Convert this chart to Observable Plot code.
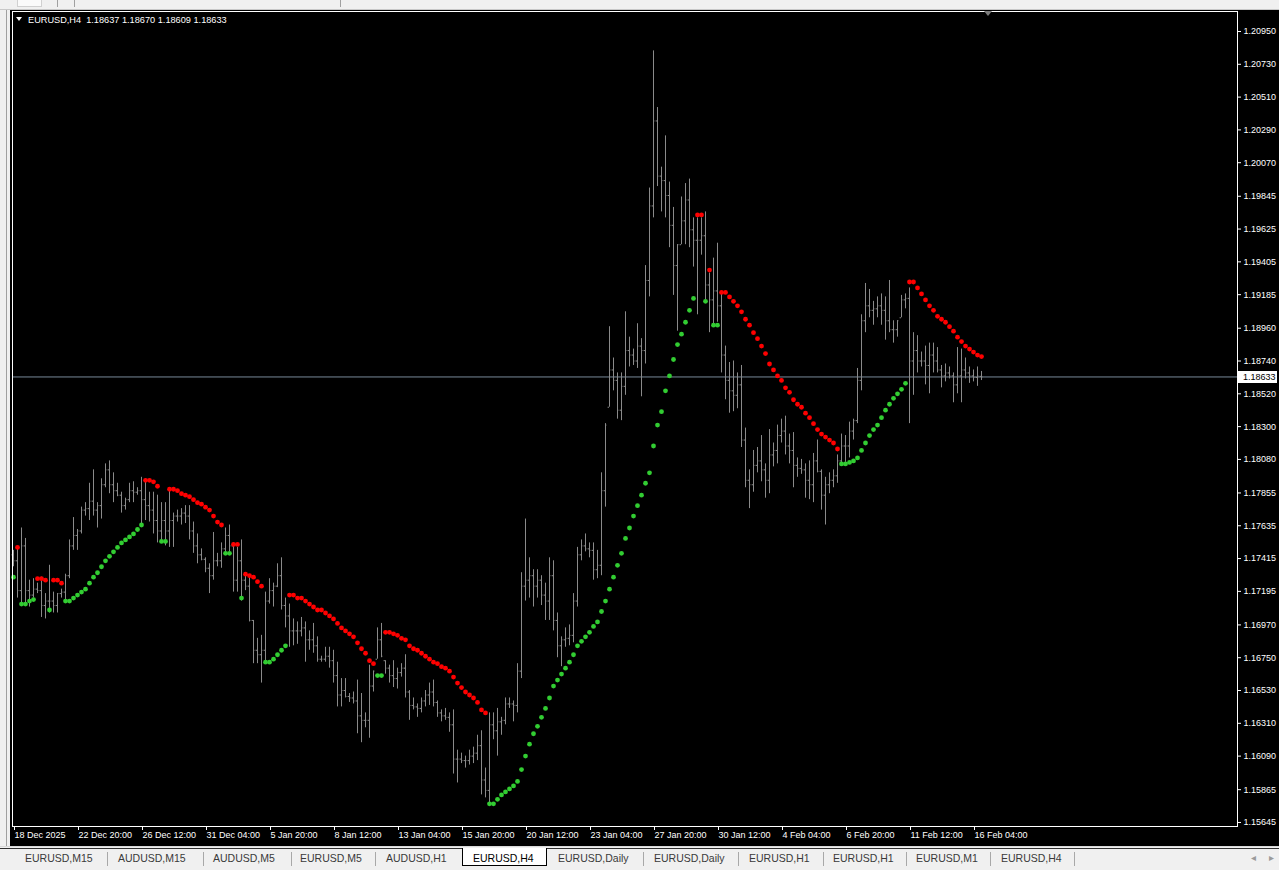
<!DOCTYPE html>
<html>
<head>
<meta charset="utf-8">
<script src="https://cdn.jsdelivr.net/npm/d3@7"></script>
<script src="https://cdn.jsdelivr.net/npm/@observablehq/plot@0.6"></script>
<style>
  html, body { margin:0; padding:0; }
  body { width:1279px; height:870px; overflow:hidden; position:relative; background:#f0f0f0; font-family:"Liberation Sans", Arial, sans-serif; }
  #chart { position:absolute; left:10px; top:10px; width:1269px; height:836px; background:#000; }
  #chart svg { display:block; }
  .abs { position:absolute; }
  #title { left:28px; top:15px; color:#fff; font-size:9.2px; line-height:10px; white-space:pre; }
  #tri { left:16px; top:17px; width:0; height:0; border-left:3.5px solid transparent; border-right:3.5px solid transparent; border-top:4px solid #fff; }
  #shift { left:984px; top:11px; width:0; height:0; border-left:4px solid transparent; border-right:4px solid transparent; border-top:5px solid #7a7a7a; }
  #tabs { left:0; top:846px; width:1279px; height:24px; background:#f0f0f0; border-top:1px solid #d8d8d8; }
  #tabs .line { left:0; top:1px; width:1279px; height:1px; background:#303030; }
  .tab { top:5px; font-size:10.5px; color:#3a3a3a; white-space:nowrap; }
  .sep { top:5px; width:1px; height:14px; background:#a8a8a8; }
  .active { top:1px; height:18px; background:#fff; border:1px solid #000; border-top:none; box-sizing:border-box; }
  .arrow { top:5px; font-size:10px; color:#9a9a9a; }
</style>
</head>
<body>
<div class="abs" style="left:0;top:0;width:1279px;height:9px;background:#f0f0f0;border-bottom:1px solid #c8c8c8"></div>
<div class="abs" style="left:17px;top:0;width:23px;height:6px;background:#fafafa;border:1px solid #d0d0d0;border-top:none"></div>
<div class="abs" style="left:57px;top:0;width:1px;height:7px;background:#a0a0a0"></div>
<div class="abs" style="left:74px;top:0;width:1px;height:7px;background:#a0a0a0"></div>
<div class="abs" style="left:340px;top:0;width:1px;height:7px;background:#a0a0a0"></div>
<div class="abs" style="left:6px;top:10px;width:1px;height:836px;background:#a0a0a0"></div>
<div id="chart"></div>
<div id="tri" class="abs"></div>
<div id="title" class="abs"></div>
<div id="shift" class="abs"></div>
<div id="tabs" class="abs"><div class="line abs"></div></div>
<script>
// ---- Chart header ----
const symbolName = "EURUSD,H4";

// ---- OHLC bars (H4), bar index 0 = 18 Dec 2025 00:00 ----
const opens = [
1.1744,1.1740,1.1720,1.1750,1.1720,1.1717,1.1721,1.1720,1.1710,1.1713,
1.1713,1.1710,1.1718,1.1719,1.1730,1.1750,1.1757,1.1760,1.1774,1.1775,
1.1780,1.1774,1.1777,1.1791,1.1801,1.1791,1.1787,1.1784,1.1777,1.1781,
1.1787,1.1786,1.1787,1.1781,1.1777,1.1774,1.1767,1.1760,1.1767,1.1760,
1.1767,1.1770,1.1770,1.1772,1.1770,1.1760,1.1750,1.1744,1.1741,1.1735,
1.1730,1.1740,1.1740,1.1748,1.1757,1.1750,1.1727,1.1740,1.1727,1.1723,
1.1700,1.1680,1.1677,1.1680,1.1713,1.1720,1.1723,1.1730,1.1710,1.1703,
1.1693,1.1693,1.1693,1.1695,1.1687,1.1687,1.1683,1.1674,1.1674,1.1676,
1.1673,1.1663,1.1650,1.1653,1.1649,1.1648,1.1646,1.1636,1.1633,1.1633,
1.1656,1.1674,1.1687,1.1673,1.1668,1.1663,1.1661,1.1665,1.1668,1.1652,
1.1643,1.1642,1.1641,1.1646,1.1650,1.1652,1.1645,1.1638,1.1636,1.1635,
1.1630,1.1607,1.1607,1.1606,1.1606,1.1609,1.1611,1.1616,1.1593,1.1586,
1.1630,1.1626,1.1632,1.1633,1.1644,1.1644,1.1643,1.1666,1.1723,1.1727,
1.1730,1.1723,1.1727,1.1717,1.1713,1.1730,1.1700,1.1683,1.1687,1.1688,
1.1690,1.1713,1.1744,1.1750,1.1748,1.1747,1.1734,1.1737,1.1787,1.1843,
1.1868,1.1861,1.1841,1.1857,1.1881,1.1878,1.1874,1.1884,1.1881,1.1928,
1.1978,1.2035,1.1998,1.1995,1.1985,1.1965,1.1938,1.1952,1.1968,1.1982,
1.1962,1.1955,1.1955,1.1958,1.1925,1.1915,1.1921,1.1911,1.1878,1.1861,
1.1854,1.1851,1.1858,1.1821,1.1794,1.1791,1.1804,1.1807,1.1801,1.1794,
1.1811,1.1814,1.1824,1.1827,1.1817,1.1814,1.1804,1.1802,1.1801,1.1794,
1.1791,1.1807,1.1800,1.1784,1.1791,1.1794,1.1797,1.1807,1.1817,1.1817,
1.1827,1.1834,1.1861,1.1901,1.1911,1.1908,1.1909,1.1911,1.1908,1.1901,
1.1895,1.1895,1.1903,1.1915,1.1916,1.1874,1.1881,1.1874,1.1874,1.1871,
1.1878,1.1874,1.1868,1.1864,1.1866,1.1864,1.1858,1.1864,1.1868,1.1866,
1.1864,1.1863,1.18637];

const highs = [
1.1747,1.1749,1.1762,1.1755,1.1727,1.1728,1.1725,1.1729,1.1718,1.1737,
1.1719,1.1718,1.1721,1.1731,1.1754,1.1769,1.1761,1.1776,1.1779,1.1792,
1.1801,1.1779,1.1795,1.1805,1.1807,1.1799,1.1792,1.1786,1.1782,1.1792,
1.1793,1.1789,1.1796,1.1795,1.1786,1.1786,1.1784,1.1779,1.1779,1.1788,
1.1772,1.1774,1.1775,1.1777,1.1777,1.1766,1.1758,1.1748,1.1742,1.1738,
1.1759,1.1745,1.1752,1.1762,1.1764,1.1752,1.1749,1.1754,1.1731,1.1729,
1.1700,1.1688,1.1690,1.1719,1.1728,1.1725,1.1738,1.1742,1.1715,1.1711,
1.1701,1.1699,1.1702,1.1699,1.1693,1.1698,1.1689,1.1676,1.1682,1.1682,
1.1680,1.1672,1.1661,1.1661,1.1651,1.1652,1.1660,1.1651,1.1638,1.1670,
1.1666,1.1695,1.1698,1.1673,1.1670,1.1673,1.1668,1.1671,1.1677,1.1653,
1.1648,1.1644,1.1648,1.1653,1.1658,1.1660,1.1646,1.1640,1.1641,1.1638,
1.1640,1.1613,1.1611,1.1609,1.1613,1.1615,1.1623,1.1626,1.1601,1.1638,
1.1638,1.1641,1.1635,1.1648,1.1648,1.1646,1.1671,1.1732,1.1768,1.1742,
1.1734,1.1734,1.1730,1.1725,1.1742,1.1740,1.1705,1.1689,1.1695,1.1697,
1.1718,1.1749,1.1754,1.1758,1.1752,1.1752,1.1747,1.1799,1.1832,1.1897,
1.1876,1.1866,1.1866,1.1907,1.1890,1.1882,1.1899,1.1889,1.1938,1.1990,
1.2082,1.2044,1.2004,1.2025,1.1994,1.1977,1.1952,1.1984,1.1993,1.1996,
1.1970,1.1970,1.1970,1.1974,1.1933,1.1943,1.1953,1.1919,1.1884,1.1873,
1.1874,1.1866,1.1871,1.1829,1.1801,1.1814,1.1816,1.1824,1.1805,1.1828,
1.1819,1.1831,1.1835,1.1837,1.1825,1.1826,1.1809,1.1808,1.1805,1.1807,
1.1812,1.1821,1.1801,1.1796,1.1799,1.1801,1.1811,1.1825,1.1824,1.1833,
1.1835,1.1869,1.1905,1.1926,1.1922,1.1914,1.1917,1.1919,1.1917,1.1928,
1.1901,1.1901,1.1918,1.1919,1.1923,1.1893,1.1891,1.1880,1.1884,1.1886,
1.1886,1.1883,1.1871,1.1872,1.1870,1.1866,1.1883,1.1882,1.1876,1.1870,
1.1868,1.1870,1.18670];

const lows = [
1.1736,1.1715,1.1710,1.1712,1.1709,1.1715,1.1718,1.1702,1.1701,1.1705,
1.1705,1.1705,1.1715,1.1712,1.1728,1.1747,1.1747,1.1758,1.1770,1.1767,
1.1770,1.1762,1.1768,1.1789,1.1785,1.1779,1.1783,1.1772,1.1774,1.1779,
1.1779,1.1784,1.1765,1.1767,1.1766,1.1758,1.1752,1.1752,1.1750,1.1749,
1.1749,1.1766,1.1764,1.1765,1.1754,1.1745,1.1738,1.1740,1.1732,1.1718,
1.1727,1.1736,1.1735,1.1745,1.1746,1.1719,1.1719,1.1713,1.1720,1.1699,
1.1671,1.1671,1.1658,1.1673,1.1711,1.1709,1.1722,1.1707,1.1695,1.1682,
1.1683,1.1684,1.1689,1.1672,1.1680,1.1678,1.1672,1.1672,1.1672,1.1668,
1.1658,1.1642,1.1642,1.1648,1.1645,1.1644,1.1624,1.1618,1.1628,1.1621,
1.1652,1.1674,1.1675,1.1664,1.1658,1.1655,1.1654,1.1662,1.1648,1.1633,
1.1640,1.1635,1.1638,1.1642,1.1643,1.1642,1.1635,1.1632,1.1633,1.1625,
1.1597,1.1591,1.1604,1.1601,1.1603,1.1604,1.1606,1.1583,1.1581,1.1577,
1.1620,1.1609,1.1623,1.1630,1.1641,1.1632,1.1638,1.1661,1.1713,1.1715,
1.1709,1.1715,1.1710,1.1700,1.1700,1.1693,1.1675,1.1669,1.1682,1.1683,
1.1685,1.1709,1.1740,1.1746,1.1742,1.1727,1.1728,1.1730,1.1776,1.1843,
1.1854,1.1835,1.1834,1.1851,1.1870,1.1871,1.1869,1.1850,1.1872,1.1917,
1.1970,1.1991,1.1974,1.1970,1.1950,1.1918,1.1894,1.1952,1.1952,1.1950,
1.1937,1.1905,1.1945,1.1915,1.1893,1.1899,1.1900,1.1866,1.1848,1.1839,
1.1840,1.1842,1.1816,1.1789,1.1775,1.1786,1.1799,1.1793,1.1782,1.1785,
1.1803,1.1805,1.1819,1.1811,1.1805,1.1789,1.1796,1.1798,1.1782,1.1781,
1.1779,1.1799,1.1774,1.1764,1.1785,1.1789,1.1792,1.1805,1.1806,1.1809,
1.1821,1.1832,1.1854,1.1893,1.1903,1.1898,1.1903,1.1898,1.1888,1.1893,
1.1886,1.1890,1.1903,1.1909,1.1832,1.1851,1.1866,1.1870,1.1858,1.1852,
1.1866,1.1866,1.1856,1.1860,1.1862,1.1846,1.1852,1.1846,1.1862,1.1859,
1.1860,1.1857,1.18609];

const closes = [
1.1740,1.1720,1.1750,1.1720,1.1717,1.1721,1.1720,1.1710,1.1713,1.1713,
1.1710,1.1718,1.1719,1.1730,1.1750,1.1757,1.1760,1.1774,1.1775,1.1780,
1.1774,1.1777,1.1791,1.1801,1.1791,1.1787,1.1784,1.1777,1.1781,1.1787,
1.1786,1.1787,1.1781,1.1777,1.1774,1.1767,1.1760,1.1767,1.1760,1.1767,
1.1770,1.1770,1.1772,1.1770,1.1760,1.1750,1.1744,1.1741,1.1735,1.1730,
1.1740,1.1740,1.1748,1.1757,1.1750,1.1727,1.1740,1.1727,1.1723,1.1700,
1.1680,1.1677,1.1680,1.1713,1.1720,1.1723,1.1730,1.1710,1.1703,1.1693,
1.1693,1.1693,1.1695,1.1687,1.1687,1.1683,1.1674,1.1674,1.1676,1.1673,
1.1663,1.1650,1.1653,1.1649,1.1648,1.1646,1.1636,1.1633,1.1633,1.1656,
1.1666,1.1687,1.1676,1.1668,1.1663,1.1661,1.1665,1.1668,1.1652,1.1643,
1.1642,1.1641,1.1646,1.1650,1.1652,1.1645,1.1638,1.1636,1.1635,1.1630,
1.1607,1.1607,1.1606,1.1606,1.1609,1.1611,1.1616,1.1593,1.1586,1.1630,
1.1626,1.1632,1.1633,1.1644,1.1644,1.1643,1.1666,1.1723,1.1727,1.1730,
1.1723,1.1727,1.1717,1.1713,1.1730,1.1700,1.1683,1.1687,1.1688,1.1690,
1.1713,1.1744,1.1750,1.1748,1.1747,1.1734,1.1737,1.1787,1.1831,1.1868,
1.1861,1.1841,1.1857,1.1881,1.1878,1.1874,1.1884,1.1881,1.1928,1.1978,
1.2035,1.1998,1.1995,1.1985,1.1965,1.1938,1.1952,1.1968,1.1982,1.1962,
1.1955,1.1955,1.1958,1.1925,1.1915,1.1921,1.1911,1.1878,1.1861,1.1854,
1.1851,1.1858,1.1821,1.1794,1.1791,1.1804,1.1807,1.1801,1.1794,1.1811,
1.1814,1.1824,1.1827,1.1817,1.1814,1.1804,1.1802,1.1801,1.1794,1.1791,
1.1807,1.1800,1.1784,1.1791,1.1794,1.1797,1.1807,1.1817,1.1817,1.1827,
1.1834,1.1861,1.1901,1.1911,1.1908,1.1909,1.1911,1.1908,1.1901,1.1895,
1.1895,1.1901,1.1915,1.1916,1.1874,1.1881,1.1874,1.1874,1.1871,1.1878,
1.1874,1.1868,1.1864,1.1866,1.1864,1.1858,1.1864,1.1868,1.1866,1.1864,
1.1863,1.1864,1.18633];

// ---- Trend indicator dots (one per bar): level and side (g = up/green, r = down/red) ----
const dotLevel = [
1.1729,1.1749,1.1711,1.1711,1.1713,1.1714,1.1728,1.1728,1.1727,1.1707,
1.1727,1.1727,1.1725,1.1713,1.1713,1.1715,1.1717,1.1719,1.1721,1.1725,
1.1729,1.1732,1.1736,1.1740,1.1743,1.1746,1.1749,1.1752,1.1754,1.1756,
1.1758,1.1761,1.1764,1.1794,1.1794,1.1793,1.1790,1.1753,1.1753,1.1788,
1.1788,1.1787,1.1785,1.1784,1.1783,1.1781,1.1779,1.1778,1.1776,1.1774,
1.1770,1.1766,1.1764,1.1745,1.1745,1.1751,1.1751,1.1715,1.1731,1.1730,
1.1729,1.1726,1.1723,1.1672,1.1672,1.1674,1.1677,1.1680,1.1683,1.1717,
1.1717,1.1715,1.1715,1.1713,1.1711,1.1709,1.1707,1.1707,1.1705,1.1703,
1.1701,1.1698,1.1695,1.1693,1.1691,1.1689,1.1685,1.1681,1.1678,1.1673,
1.1671,1.1663,1.1663,1.1692,1.1692,1.1691,1.1690,1.1688,1.1687,1.1683,
1.1681,1.1680,1.1678,1.1676,1.1674,1.1672,1.1671,1.1669,1.1668,1.1666,
1.1662,1.1658,1.1655,1.1652,1.1650,1.1648,1.1645,1.1640,1.1638,1.1577,
1.1577,1.1580,1.1583,1.1585,1.1587,1.1589,1.1592,1.1600,1.1609,1.1617,
1.1624,1.1629,1.1635,1.1641,1.1648,1.1656,1.1660,1.1664,1.1668,1.1672,
1.1677,1.1683,1.1686,1.1689,1.1692,1.1696,1.1699,1.1706,1.1713,1.1721,
1.1729,1.1737,1.1745,1.1755,1.1762,1.1770,1.1777,1.1784,1.1792,1.1799,
1.1817,1.1831,1.1840,1.1854,1.1864,1.1875,1.1885,1.1892,1.1900,1.1908,
1.1916,1.1972,1.1972,1.1914,1.1935,1.1898,1.1898,1.1920,1.1920,1.1917,
1.1914,1.1911,1.1907,1.1902,1.1898,1.1893,1.1889,1.1884,1.1879,1.1872,
1.1868,1.1864,1.1861,1.1856,1.1853,1.1848,1.1845,1.1843,1.1839,1.1836,
1.1832,1.1828,1.1825,1.1823,1.1821,1.1819,1.1815,1.1805,1.1805,1.1806,
1.1807,1.1809,1.1814,1.1819,1.1824,1.1828,1.1831,1.1836,1.1841,1.1845,
1.1849,1.1852,1.1855,1.1859,1.1927,1.1927,1.1923,1.1919,1.1915,1.1911,
1.1908,1.1904,1.1902,1.1900,1.1897,1.1894,1.1890,1.1887,1.1884,1.1882,
1.1880,1.1878,1.1877];

const dotSide = (
"grggggrrrg" + "rrrggggggg" + "gggggggggg" + "gggrrrrggr" + "rrrrrrrrrr" +
"rrrggrrgrr" + "rrrggggggr" + "rrrrrrrrrr" + "rrrrrrrrrr" + "rggrrrrrrr" +
"rrrrrrrrrr" + "rrrrrrrrrg" + "gggggggggg" + "gggggggggg" + "gggggggggg" +
"gggggggggg" + "gggggggggg" + "grrgrggrrr" + "rrrrrrrrrr" + "rrrrrrrrrr" +
"rrrrrrrggg" + "gggggggggg" + "ggggrrrrrr" + "rrrrrrrrrr" + "rrr").split("");

// ---- Axis ticks ----
const priceTicks = [1.20950,1.20730,1.20510,1.20290,1.20070,1.19845,1.19625,1.19405,1.19185,
  1.18960,1.18740,1.18520,1.18300,1.18080,1.17855,1.17635,1.17415,1.17195,1.16970,1.16750,
  1.16530,1.16310,1.16090,1.15865,1.15645];
const dateTickBars = [0,16,32,48,64,80,96,112,128,144,160,176,192,208,224,240];
const dateLabels = ["18 Dec 2025","22 Dec 20:00","26 Dec 12:00","31 Dec 04:00","5 Jan 20:00",
  "8 Jan 12:00","13 Jan 04:00","15 Jan 20:00","20 Jan 12:00","23 Jan 04:00","27 Jan 20:00",
  "30 Jan 12:00","4 Feb 04:00","6 Feb 20:00","11 Feb 12:00","16 Feb 04:00"];

// ---- Terminal tabs ----
const tabNames = ["EURUSD,M15","AUDUSD,M15","AUDUSD,M5","EURUSD,M5","AUDUSD,H1","EURUSD,H4",
  "EURUSD,Daily","EURUSD,Daily","EURUSD,H1","EURUSD,H1","EURUSD,M1","EURUSD,H4"];
const activeTab = 5;

// ================= build =================
const bars = highs.map((h, i) => ({i, open: opens[i], high: h, low: lows[i], close: closes[i]}));
const dots = dotLevel.map((p, i) => ({i, p, side: dotSide[i]}));
const last = bars[bars.length - 1];

document.getElementById("title").textContent =
  symbolName + "  " + [last.open, last.high, last.low, last.close].map(v => v.toFixed(5)).join(" ");

const barColor = "#8a8a8a";
const chart = Plot.plot({
  width: 1269,
  height: 836,
  marginLeft: 2,
  marginRight: 42,
  marginTop: 1,
  marginBottom: 20,
  style: {background: "#000", color: "#fff", fontFamily: "'Liberation Sans', Arial, sans-serif", fontSize: "9px"},
  x: {type: "linear", domain: [-0.25, 306]},
  y: {type: "linear", domain: [1.15618, 1.210841]},
  marks: [
    Plot.ruleY([last.close], {stroke: "#778899"}),
    Plot.ruleX(bars, {x: "i", y1: "low", y2: "high", stroke: barColor}),
    Plot.ruleY(bars, {y: "open", x1: d => d.i - 0.35, x2: "i", stroke: barColor}),
    Plot.ruleY(bars, {y: "close", x1: "i", x2: d => d.i + 0.35, stroke: barColor}),
    Plot.dot(dots, {x: "i", y: "p", r: 2.4, stroke: null, fill: d => d.side === "g" ? "#32cd32" : "#ff0000"}),
    Plot.frame({stroke: "#fff"}),
    Plot.axisY(priceTicks, {anchor: "right", tickSize: 3, tickPadding: 3, tickFormat: d => d.toFixed(5), label: null, fontSize: 9}),
    Plot.axisX(dateTickBars, {anchor: "bottom", tickSize: 4, tickPadding: 1, textAnchor: "start", dx: 1,
      tickFormat: d => dateLabels[dateTickBars.indexOf(d)], label: null, fontSize: 9})
  ]
});
document.getElementById("chart").appendChild(chart);

// current price label box on the price axis
const yScale = chart.scale("y");
const yy = yScale.apply(last.close) + 0.5;
const sel = d3.select(chart).append("g").attr("text-anchor", "start");
sel.append("rect").attr("x", 1228).attr("y", Math.round(yy) - 6).attr("width", 39).attr("height", 12).attr("fill", "#fff");
sel.append("text").attr("x", 1233).attr("y", yy).attr("dy", "0.35em").attr("fill", "#000")
  .attr("text-anchor", "start").attr("font-size", 9)
  .attr("font-family", "'Liberation Sans', Arial, sans-serif").text(last.close.toFixed(5));

// tabs bar
const tabLeft = [25,118,213,300,386,473,558,654,749,833,916,1001];
const sepLeft = [107,203,291,375,643,738,823,906,990,1074];
const tabs = document.getElementById("tabs");
const act = document.createElement("div");
act.className = "abs active";
act.style.left = "462px"; act.style.width = "85px";
tabs.appendChild(act);
tabNames.forEach((name, k) => {
  const s = document.createElement("div");
  s.className = "abs tab";
  s.style.left = tabLeft[k] + "px";
  if (k === activeTab) s.style.color = "#000";
  s.textContent = name;
  tabs.appendChild(s);
});
sepLeft.forEach(x => {
  const s = document.createElement("div");
  s.className = "abs sep";
  s.style.left = x + "px";
  tabs.appendChild(s);
});
[["\u25C2", 1251], ["\u25B8", 1269]].forEach(([ch, x]) => {
  const s = document.createElement("div");
  s.className = "abs arrow";
  s.style.left = x + "px";
  s.textContent = ch;
  tabs.appendChild(s);
});
</script>
</body>
</html>
